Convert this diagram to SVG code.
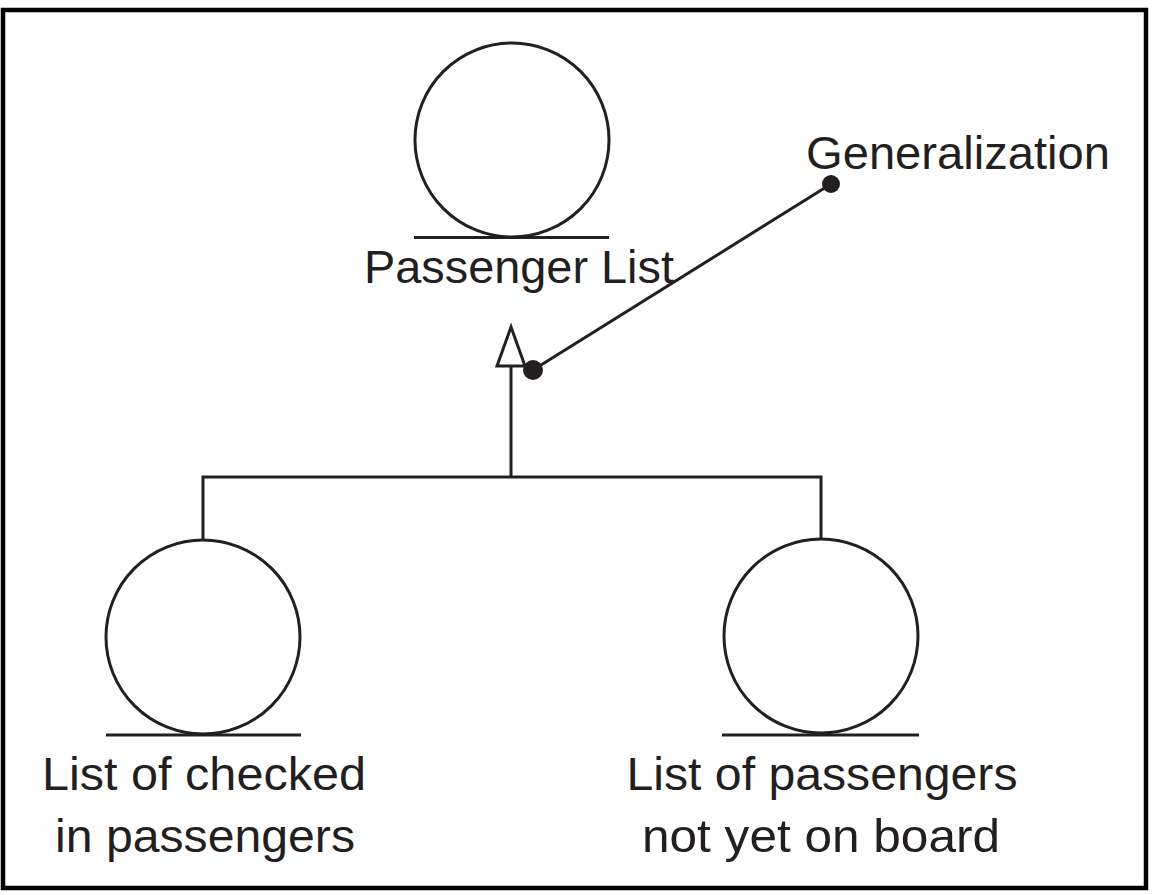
<svg xmlns="http://www.w3.org/2000/svg" width="1152" height="895" viewBox="0 0 1152 895">
<style>
.c{fill:none;stroke:#231f20;stroke-width:3}
.u{stroke:#231f20;stroke-width:3}
.l{fill:none;stroke:#231f20;stroke-width:3}
.t{font-family:"Liberation Sans",Arial,sans-serif;font-size:47px;fill:#231f20;text-anchor:middle}
</style>
<rect x="0" y="0" width="1152" height="895" fill="#fff"/>
<rect x="3" y="10" width="1143" height="878" fill="none" stroke="#000" stroke-width="4.5"/>
<g id="passenger-list">
<circle class="c" cx="512" cy="140" r="97"/>
<line class="u" x1="414" y1="237.5" x2="609" y2="237.5"/>
<text class="t" x="519" y="283" textLength="310" lengthAdjust="spacingAndGlyphs">Passenger List</text>
</g>
<g id="checked-in">
<circle class="c" cx="203" cy="637" r="97"/>
<line class="u" x1="106" y1="735" x2="301" y2="735"/>
<text class="t" x="204" y="790" textLength="324" lengthAdjust="spacingAndGlyphs">List of checked</text>
<text class="t" x="205" y="852" textLength="300" lengthAdjust="spacingAndGlyphs">in passengers</text>
</g>
<g id="not-on-board">
<circle class="c" cx="821" cy="636" r="97"/>
<line class="u" x1="722" y1="735" x2="919" y2="735" stroke-width="4"/>
<text class="t" x="822" y="790" textLength="391" lengthAdjust="spacingAndGlyphs">List of passengers</text>
<text class="t" x="821" y="852" textLength="358" lengthAdjust="spacingAndGlyphs">not yet on board</text>
</g>
<g id="generalization-label">
<text class="t" x="958" y="169" font-size="46" textLength="304" lengthAdjust="spacingAndGlyphs">Generalization</text>
</g>
<g id="connectors">
<polyline class="l" points="203,540 203,477 821,477 821,540"/>
<line class="l" x1="511" y1="477" x2="511" y2="366"/>
<polygon points="511,327 497,366 525,366" fill="#fff" stroke="#231f20" stroke-width="3" stroke-linejoin="miter"/>
<line class="l" x1="533" y1="370" x2="831" y2="184"/>
<circle cx="533" cy="370" r="10" fill="#231f20"/>
<circle cx="831" cy="184" r="9" fill="#231f20"/>
</g>
</svg>
